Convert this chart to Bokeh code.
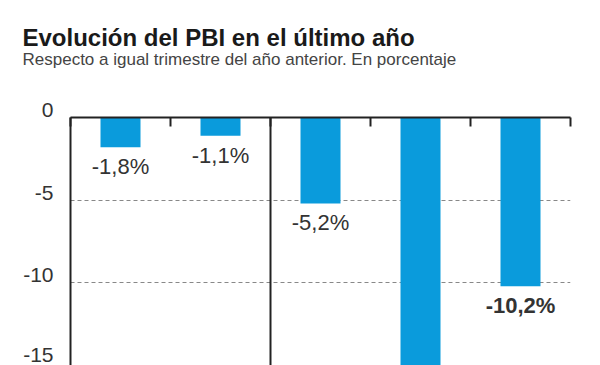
from bokeh.plotting import figure
from bokeh.models import (ColumnDataSource, Range1d, FixedTicker, LinearAxis, Span,
                          LabelSet, Title, CustomLabelingPolicy)
from bokeh.core.properties import value
from bokeh.embed import file_html
from bokeh.resources import INLINE

# data
quarters = ["III 2019", "IV 2019", "I 2020", "II 2020", "III 2020"]
values = [-1.8, -1.1, -5.2, -19.1, -10.2]
labels = ["-1,8%", "-1,1%", "-5,2%", "-19,1%", "-10,2%"]
label_styles = ["normal", "normal", "normal", "normal", "bold"]
yticks = [0, -5, -10, -15]
ytick_labels = ["0\n", "-5\n", "-10\n", "-15"]
year_break = 1.5

BAR = "#0a9bdc"
INK = "#333333"
FONT = "Liberation Sans"

xs = list(range(len(quarters)))
src = ColumnDataSource(dict(x=xs, v=values, lab=labels, style=label_styles))

p = figure(width=600, height=365, output_backend="svg", toolbar_location=None,
           x_range=Range1d(-0.5, len(quarters) - 0.5), y_range=Range1d(-15, 0),
           x_axis_location=None, y_axis_location="left", title_location=None,
           min_border_left=70, min_border_right=30, min_border_bottom=0, min_border_top=117,
           outline_line_color=None, background_fill_color="white", border_fill_color="white")

hide_all = CustomLabelingPolicy(code="""
const n = indices.size
for (let i = 0; i < n; i++) indices.unset(i)
return indices
""")

# top axis with inward ticks at category boundaries (added first: closest to frame)
top = LinearAxis(ticker=FixedTicker(ticks=[i - 0.5 for i in range(len(quarters) + 1)]),
                 major_label_policy=hide_all, major_label_standoff=38,
                 major_tick_in=9, major_tick_out=0, minor_tick_in=0, minor_tick_out=0,
                 axis_line_color="#222222", axis_line_width=2,
                 major_tick_line_color="#222222", major_tick_line_width=2)
p.add_layout(top, "above")

p.add_layout(Title(text="Respecto a igual trimestre del año anterior. En porcentaje",
                   text_font=FONT, text_font_size="17px", text_font_style="normal",
                   text_color="#444444", offset=-48, standoff=0), "above")
p.add_layout(Title(text="Evolución del PBI en el último año", text_font=FONT,
                   text_font_size="24px", text_font_style="bold", text_color="#1a1a1a",
                   offset=-48, standoff=-6), "above")

ax = p.yaxis[0]
ax.ticker = FixedTicker(ticks=yticks)
ax.major_label_overrides = dict(zip(yticks, ytick_labels))
ax.major_label_text_font = FONT
ax.major_label_text_font_size = "21px"
ax.major_label_text_line_height = 0.7
ax.major_label_text_color = INK
ax.major_label_standoff = 17
ax.major_tick_in = 0
ax.major_tick_out = 0
ax.minor_tick_in = 0
ax.minor_tick_out = 0
ax.axis_line_color = "#222222"
ax.axis_line_width = 2

p.xgrid.visible = False
p.ygrid.ticker = FixedTicker(ticks=yticks)
p.ygrid.grid_line_color = "#888888"
p.ygrid.grid_line_dash = "4 3"
p.ygrid.grid_line_width = 1

p.vbar(x="x", top=0, bottom="v", width=0.4, source=src, fill_color=BAR, line_color=None)

p.add_layout(Span(location=year_break, dimension="height", line_color="#222222", line_width=2))

p.add_layout(LabelSet(x="x", y="v", text="lab", source=src, text_align="center",
                      text_baseline="top", y_offset=-7, text_font=value(FONT),
                      text_font_size="22px", text_font_style="style", text_color=INK))

open("out.html", "w").write(file_html(p, INLINE))
